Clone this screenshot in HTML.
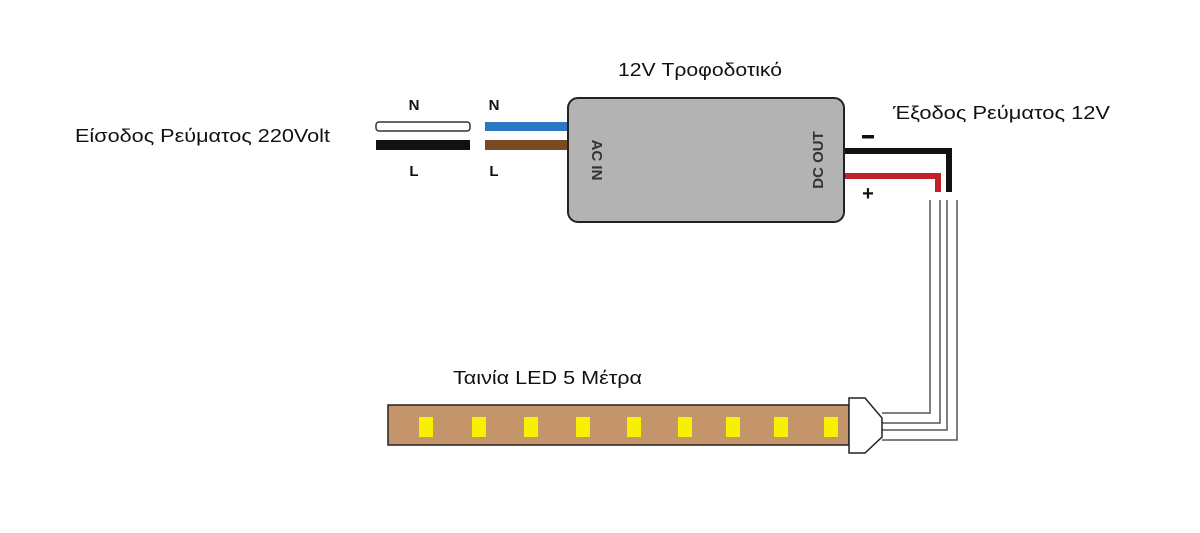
<!DOCTYPE html>
<html><head><meta charset="utf-8"><style>
body{margin:0;background:#fff;width:1200px;height:528px;overflow:hidden}
</style></head><body>
<svg width="1200" height="528" xmlns="http://www.w3.org/2000/svg" font-family="Liberation Sans, DejaVu Sans, sans-serif">
<text x="618" y="76" font-size="18" fill="#111" textLength="164" lengthAdjust="spacingAndGlyphs">12V Τροφοδοτικό</text>
<text x="75" y="142" font-size="18" fill="#111" textLength="255" lengthAdjust="spacingAndGlyphs">Είσοδος Ρεύματος 220Volt</text>
<text x="893" y="119" font-size="18" fill="#111" textLength="217" lengthAdjust="spacingAndGlyphs">Έξοδος Ρεύματος 12V</text>
<text x="453" y="384" font-size="18" fill="#111" textLength="189" lengthAdjust="spacingAndGlyphs">Ταινία LED 5 Μέτρα</text>
<g font-weight="bold" font-size="15" fill="#111" text-anchor="middle">
<text x="414" y="110">N</text><text x="414" y="176">L</text>
<text x="494" y="110">N</text><text x="494" y="176">L</text>
</g>
<rect x="376" y="122" width="94" height="9" rx="3" fill="#fff" stroke="#333" stroke-width="1.5"/>
<rect x="376" y="140" width="94" height="10" fill="#111"/>
<rect x="485" y="122" width="85" height="9" fill="#2a78c0"/>
<rect x="485" y="140" width="85" height="10" fill="#7a4a22"/>
<rect x="568" y="98" width="276" height="124" rx="10" fill="#b3b3b3" stroke="#222" stroke-width="2"/>
<text transform="translate(592,160) rotate(90)" font-size="15" font-weight="bold" fill="#333" text-anchor="middle">AC IN</text>
<text transform="translate(823,160) rotate(-90)" font-size="15" font-weight="bold" fill="#333" text-anchor="middle">DC OUT</text>
<path d="M845 151 H949 V192" fill="none" stroke="#111" stroke-width="6"/>
<path d="M845 176 H938 V192" fill="none" stroke="#c0202a" stroke-width="6"/>
<rect x="862" y="135" width="12" height="3.5" fill="#111"/>
<text x="868" y="200" font-size="20" font-weight="bold" text-anchor="middle" fill="#111">+</text>
<path d="M930 200 V413 H882 M940 200 V423 H882 M947 200 V430 H882 M957 200 V440 H882" fill="none" stroke="#555" stroke-width="1.5"/>
<rect x="388" y="405" width="461" height="40" fill="#c4956a" stroke="#222" stroke-width="1.5"/>
<g fill="#f7f000">
<rect x="419" y="417" width="14" height="20"/><rect x="472" y="417" width="14" height="20"/>
<rect x="524" y="417" width="14" height="20"/><rect x="576" y="417" width="14" height="20"/>
<rect x="627" y="417" width="14" height="20"/><rect x="678" y="417" width="14" height="20"/>
<rect x="726" y="417" width="14" height="20"/><rect x="774" y="417" width="14" height="20"/>
<rect x="824" y="417" width="14" height="20"/>
</g>
<path d="M849 398 H865 L882 418 V437 L865 453 H849 Z" fill="#fff" stroke="#222" stroke-width="1.5"/>
</svg>
</body></html>
